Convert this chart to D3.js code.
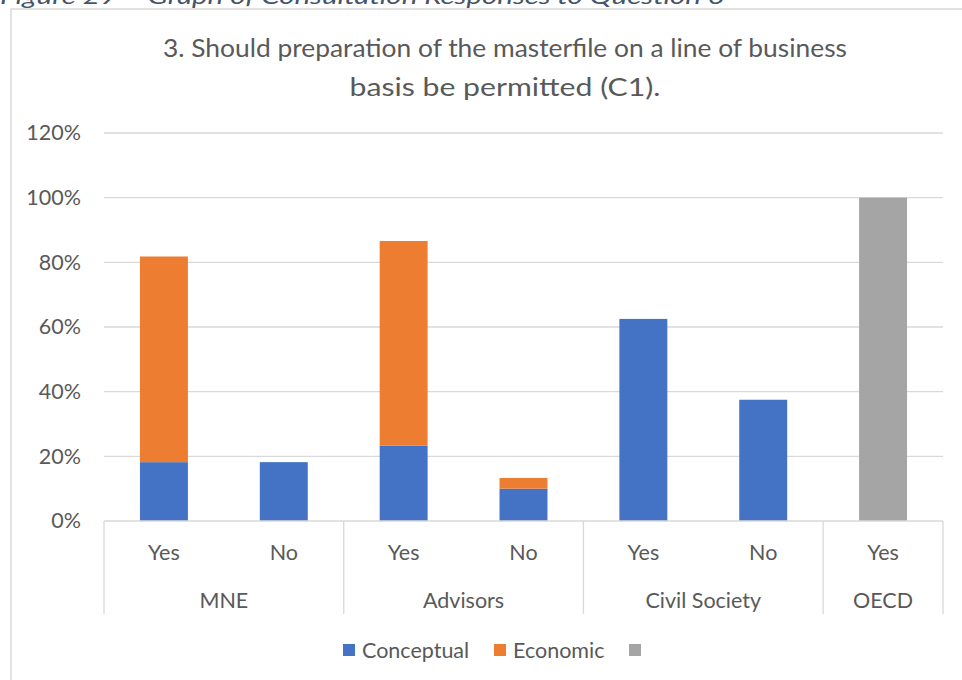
<!DOCTYPE html>
<html>
<head>
<meta charset="utf-8">
<script src="https://cdn.jsdelivr.net/npm/d3@7"></script>
<style>
  html, body { margin: 0; padding: 0; background: #ffffff; }
  svg { display: block; font-family: Lato, "Open Sans", sans-serif; }
</style>
</head>
<body>
<svg id="chart" width="962" height="680"></svg>
<script>
// Consultation responses to question 3, by respondent group and answer
const groups = ["MNE", "Advisors", "Civil Society", "OECD"];
const answers = ["Yes", "No", "Yes", "No", "Yes", "No", "Yes"];
const answerGroup = ["MNE", "MNE", "Advisors", "Advisors", "Civil Society", "Civil Society", "OECD"];
const conceptual = [0.182, 0.182, 0.233, 0.100, 0.625, 0.375, 0];
const economic   = [0.636, 0,     0.633, 0.033, 0,     0,     0];
const other      = [0,     0,     0,     0,     0,     0,     1.00];
const seriesNames = ["Conceptual", "Economic", ""];
const seriesColors = ["#4472C4", "#ED7D31", "#A5A5A5"];
const yTicks = [0, 0.2, 0.4, 0.6, 0.8, 1.0, 1.2];
const titleLines = ["3. Should preparation of the masterfile on a line of business", "basis be permitted (C1)."];
const caption = "Figure 29 \u2013 Graph of Consultation Responses to Question 3";

const svg = d3.select("#chart");
const textColor = "#595959";
const gridColor = "#d9d9d9";
const labelSize = 21.5;

// caption above the chart frame (partly clipped at the top edge)
svg.append("text")
  .attr("x", 0).attr("y", 4)
  .attr("font-size", 21).attr("font-style", "italic")
  .attr("fill", "#44546A")
  .attr("textLength", 725).attr("lengthAdjust", "spacingAndGlyphs")
  .text(caption);

// chart frame
svg.append("rect")
  .attr("x", 11).attr("y", 9).attr("width", 970).attr("height", 690)
  .attr("fill", "#ffffff").attr("stroke", gridColor).attr("stroke-width", 1.5);

// title
const titleCfg = [{ y: 57, len: 684 }, { y: 96, len: 311 }];
svg.append("g").selectAll("text").data(titleLines).join("text")
  .attr("x", 505)
  .attr("y", (d, i) => titleCfg[i].y)
  .attr("text-anchor", "middle")
  .attr("font-size", 25)
  .attr("fill", textColor)
  .attr("textLength", (d, i) => titleCfg[i].len)
  .attr("lengthAdjust", "spacingAndGlyphs")
  .text(d => d);

// scales
const plot = { left: 104, right: 943, top: 133, bottom: 521 };
const x = d3.scaleBand().domain(d3.range(answers.length))
  .range([plot.left, plot.right]).paddingInner(0.6).paddingOuter(0.3);
const slot = d3.scaleBand().domain(d3.range(answers.length))
  .range([plot.left, plot.right]);
const y = d3.scaleLinear().domain([0, 1.2]).range([plot.bottom, plot.top]);

// gridlines
svg.append("g").selectAll("line").data(yTicks.slice(1)).join("line")
  .attr("x1", plot.left).attr("x2", plot.right)
  .attr("y1", d => y(d)).attr("y2", d => y(d))
  .attr("stroke", gridColor).attr("stroke-width", 1.3);

// y axis labels
const yAxis = d3.axisLeft(y).tickValues(yTicks).tickFormat(d3.format(".0%")).tickSize(0).tickPadding(0);
const yg = svg.append("g").attr("transform", `translate(81,0)`).call(yAxis);
yg.select(".domain").remove();
yg.selectAll("text").attr("font-size", labelSize).attr("fill", textColor)
  .attr("font-family", "Lato, 'Open Sans', sans-serif");

// stacked bars
const rows = answers.map((a, i) => ({ i, Conceptual: conceptual[i], Economic: economic[i], Other: other[i] }));
const stack = d3.stack().keys(["Conceptual", "Economic", "Other"]);
const layers = stack(rows);
svg.append("g").selectAll("g").data(layers).join("g")
  .attr("fill", (d, k) => seriesColors[k])
  .selectAll("rect").data(d => d.filter(p => p[1] - p[0] > 0)).join("rect")
  .attr("x", d => x(d.data.i))
  .attr("width", x.bandwidth())
  .attr("y", d => y(d[1]))
  .attr("height", d => y(d[0]) - y(d[1]));

// category axis: baseline, group dividers, answer and group labels
const axisG = svg.append("g");
axisG.append("line")
  .attr("x1", plot.left).attr("x2", plot.right)
  .attr("y1", plot.bottom).attr("y2", plot.bottom)
  .attr("stroke", gridColor).attr("stroke-width", 1.5);

const groupSpans = groups.map(g => {
  const idx = d3.range(answers.length).filter(i => answerGroup[i] === g);
  return { name: g, x0: slot(idx[0]), x1: slot(idx[idx.length - 1]) + slot.bandwidth() };
});
const dividers = [plot.left].concat(groupSpans.map(s => s.x1));
axisG.selectAll("line.div").data(dividers).join("line")
  .attr("class", "div")
  .attr("x1", d => d).attr("x2", d => d)
  .attr("y1", plot.bottom).attr("y2", 614)
  .attr("stroke", gridColor).attr("stroke-width", 1.3);

axisG.selectAll("text.ans").data(answers).join("text")
  .attr("class", "ans")
  .attr("x", (d, i) => slot(i) + slot.bandwidth() / 2)
  .attr("y", 560)
  .attr("text-anchor", "middle")
  .attr("font-size", labelSize).attr("fill", textColor)
  .text(d => d);

axisG.selectAll("text.grp").data(groupSpans).join("text")
  .attr("class", "grp")
  .attr("x", d => (d.x0 + d.x1) / 2)
  .attr("y", 608)
  .attr("text-anchor", "middle")
  .attr("font-size", labelSize).attr("fill", textColor)
  .text(d => d.name);

// legend
const legendX = [343, 494, 629];
const lg = svg.append("g");
const items = lg.selectAll("g").data(seriesNames).join("g")
  .attr("transform", (d, i) => `translate(${legendX[i]},644)`);
items.append("rect").attr("width", 12).attr("height", 12)
  .attr("fill", (d, i) => seriesColors[i]);
items.append("text").attr("x", 19).attr("y", 14)
  .attr("font-size", labelSize).attr("fill", textColor)
  .text(d => d);
</script>
</body>
</html>
